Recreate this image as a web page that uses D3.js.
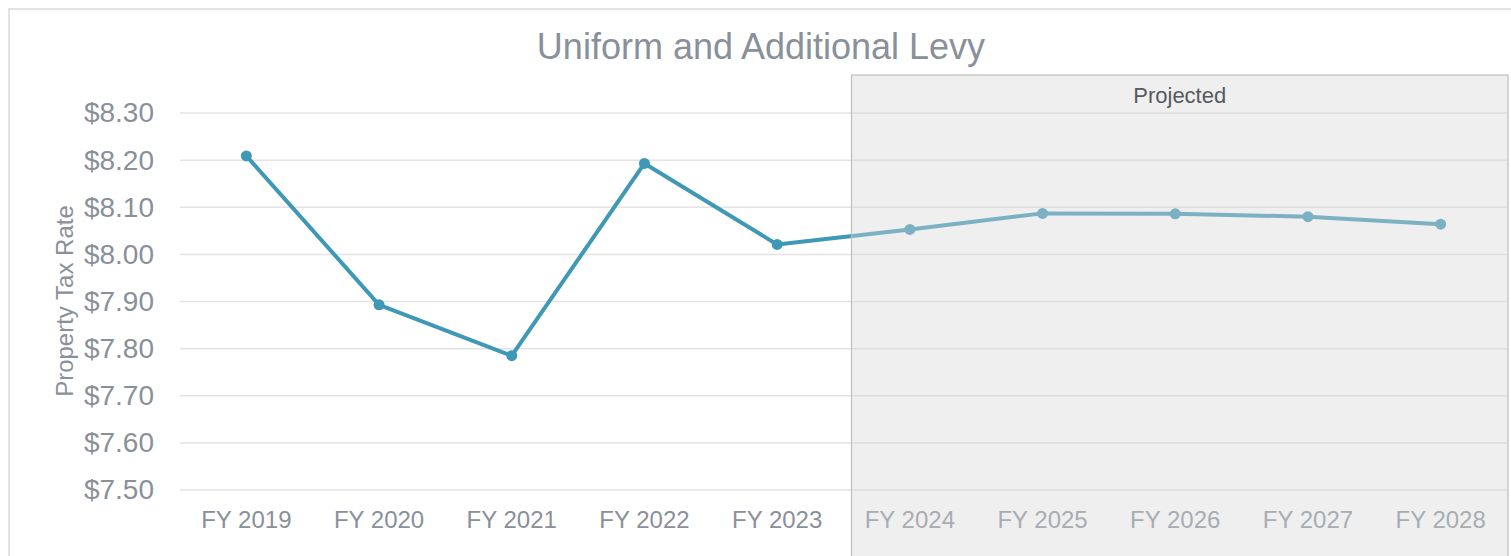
<!DOCTYPE html>
<html>
<head>
<meta charset="utf-8">
<script src="https://cdn.jsdelivr.net/npm/d3@7"></script>
<style>
    body { margin: 0; background: #fff; }
    svg { display: block; font-family: "Liberation Sans", Arial, sans-serif; }
</style>
</head>
<body>
<div id="chart"></div>
<script>
// data
var years = ["FY 2019", "FY 2020", "FY 2021", "FY 2022", "FY 2023",
             "FY 2024", "FY 2025", "FY 2026", "FY 2027", "FY 2028"];
var rates = [8.209, 7.893, 7.785, 8.193, 8.021, 8.053, 8.087, 8.086, 8.080, 8.064];
var yTicks = [7.5, 7.6, 7.7, 7.8, 7.9, 8.0, 8.1, 8.2, 8.3];
var firstProjected = "FY 2024";

var width = 1511, height = 556;
var margin = {top: 113, right: 4, bottom: 66, left: 180};

var svg = d3.select("#chart").append("svg")
    .attr("width", width)
    .attr("height", height);

// outer frame
svg.append("rect")
    .attr("x", 9).attr("y", 9)
    .attr("width", width).attr("height", height)
    .attr("fill", "none")
    .attr("stroke", "#e2e2e2")
    .attr("stroke-width", 2);

var x = d3.scaleBand()
    .domain(years)
    .range([margin.left, width - margin.right])
    .padding(0);

var y = d3.scaleLinear()
    .domain([7.5, 8.3])
    .range([height - margin.bottom, margin.top]);

var textGray = "#8a9099";

// title
svg.append("text")
    .attr("x", 761)
    .attr("y", 59)
    .attr("text-anchor", "middle")
    .attr("font-size", 36)
    .attr("fill", textGray)
    .text("Uniform and Additional Levy");

// gridlines
svg.append("g")
    .selectAll("line")
    .data(yTicks)
    .enter().append("line")
    .attr("x1", margin.left)
    .attr("x2", width - margin.right)
    .attr("y1", function (d) { return y(d); })
    .attr("y2", function (d) { return y(d); })
    .attr("stroke", "#e3e3e3")
    .attr("stroke-width", 1.5);

// y axis
var yAxis = svg.append("g")
    .attr("transform", "translate(" + (margin.left - 26) + ",0)")
    .call(d3.axisLeft(y).tickValues(yTicks).tickSize(0).tickPadding(0)
        .tickFormat(function (d) { return "$" + d.toFixed(2); }));
yAxis.select(".domain").remove();
yAxis.selectAll("text")
    .attr("font-size", 28)
    .attr("font-family", "Liberation Sans, Arial, sans-serif")
    .attr("fill", textGray);

svg.append("text")
    .attr("transform", "translate(73," + 301 + ") rotate(-90)")
    .attr("text-anchor", "middle")
    .attr("font-size", 24)
    .attr("fill", textGray)
    .text("Property Tax Rate");

// x axis
var xAxis = svg.append("g")
    .attr("transform", "translate(0," + (height - margin.bottom) + ")")
    .call(d3.axisBottom(x).tickSize(0).tickPadding(0));
xAxis.select(".domain").remove();
xAxis.selectAll("text")
    .attr("dy", 0)
    .attr("y", 38)
    .attr("font-size", 24)
    .attr("font-family", "Liberation Sans, Arial, sans-serif")
    .attr("fill", textGray);

// line and points
var lineColor = "#3e98b6";
var line = d3.line()
    .x(function (d, i) { return x(years[i]) + x.bandwidth() / 2; })
    .y(function (d) { return y(d); });

svg.append("path")
    .datum(rates)
    .attr("d", line)
    .attr("fill", "none")
    .attr("stroke", lineColor)
    .attr("stroke-width", 4)
    .attr("stroke-linejoin", "round");

svg.append("g")
    .selectAll("circle")
    .data(rates)
    .enter().append("circle")
    .attr("cx", function (d, i) { return x(years[i]) + x.bandwidth() / 2; })
    .attr("cy", function (d) { return y(d); })
    .attr("r", 5.5)
    .attr("fill", lineColor);

// projected overlay (semi-transparent, drawn on top)
var px = x(firstProjected) + 8;
svg.append("rect")
    .attr("x", px)
    .attr("y", 75)
    .attr("width", 1508 - px)
    .attr("height", height)
    .attr("fill", "rgb(215,215,215)")
    .attr("fill-opacity", 0.4)
    .attr("stroke", "#bdbdbd")
    .attr("stroke-width", 1.2);

svg.append("text")
    .attr("x", (px + 1508) / 2)
    .attr("y", 103)
    .attr("text-anchor", "middle")
    .attr("font-size", 22)
    .attr("fill", "#555a60")
    .text("Projected");
</script>
</body>
</html>
